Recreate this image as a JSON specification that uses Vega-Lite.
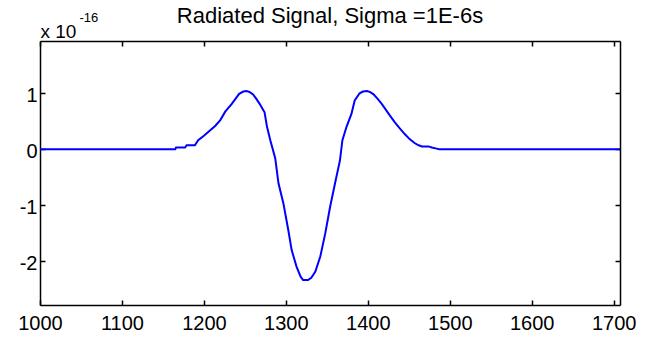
{
  "$schema": "https://vega.github.io/schema/vega-lite/v6.json",
  "width": 580,
  "height": 264,
  "autosize": {"type": "none"},
  "padding": {"left": 40, "top": 41, "right": 37, "bottom": 36},
  "background": "white",
  "config": {
    "view": {"stroke": null},
    "font": "Liberation Sans",
    "axis": {
      "grid": false,
      "domainColor": "black",
      "domainWidth": 1.5,
      "tickColor": "black",
      "tickWidth": 1.5,
      "tickSize": -5,
      "labelFlush": false,
      "labelOverlap": false,
      "labelFont": "Liberation Sans",
      "labelFontSize": 20,
      "labelColor": "black",
      "titleFont": "Liberation Sans",
      "titleColor": "black",
      "titleFontWeight": "normal"
    }
  },
  "title": {
    "text": "Radiated Signal, Sigma =1E-6s",
    "font": "Liberation Sans",
    "fontSize": 22,
    "fontWeight": "normal",
    "color": "black",
    "anchor": "middle",
    "frame": "group",
    "dy": 21
  },
  "data": {
    "values": [
      {"t": 1000, "v": 0}, {"t": 1165, "v": 0}, {"t": 1166, "v": 0.03}, {"t": 1177, "v": 0.03},
      {"t": 1179, "v": 0.07}, {"t": 1189, "v": 0.07}, {"t": 1193, "v": 0.16}, {"t": 1200, "v": 0.24},
      {"t": 1207, "v": 0.33}, {"t": 1214, "v": 0.42}, {"t": 1220, "v": 0.52}, {"t": 1226, "v": 0.67},
      {"t": 1234, "v": 0.81}, {"t": 1243, "v": 0.99}, {"t": 1248, "v": 1.03}, {"t": 1252, "v": 1.04},
      {"t": 1256, "v": 1.02}, {"t": 1260, "v": 0.98}, {"t": 1264, "v": 0.9}, {"t": 1268, "v": 0.81},
      {"t": 1274, "v": 0.66}, {"t": 1277, "v": 0.4}, {"t": 1281, "v": 0.16}, {"t": 1287, "v": -0.16},
      {"t": 1291, "v": -0.61}, {"t": 1297, "v": -0.97}, {"t": 1303, "v": -1.45}, {"t": 1307, "v": -1.8},
      {"t": 1313, "v": -2.1}, {"t": 1318, "v": -2.28}, {"t": 1321, "v": -2.34}, {"t": 1327, "v": -2.34},
      {"t": 1331, "v": -2.3}, {"t": 1336, "v": -2.19}, {"t": 1342, "v": -1.92}, {"t": 1348, "v": -1.51},
      {"t": 1354, "v": -1.03}, {"t": 1360, "v": -0.61}, {"t": 1366, "v": -0.2}, {"t": 1369, "v": 0.16},
      {"t": 1374, "v": 0.4}, {"t": 1380, "v": 0.63}, {"t": 1384, "v": 0.87}, {"t": 1390, "v": 1.0},
      {"t": 1394, "v": 1.03}, {"t": 1399, "v": 1.04}, {"t": 1403, "v": 1.02}, {"t": 1407, "v": 0.98},
      {"t": 1412, "v": 0.9}, {"t": 1417, "v": 0.81}, {"t": 1427, "v": 0.6}, {"t": 1433, "v": 0.48},
      {"t": 1439, "v": 0.37}, {"t": 1445, "v": 0.27}, {"t": 1451, "v": 0.18}, {"t": 1457, "v": 0.11},
      {"t": 1462, "v": 0.07}, {"t": 1466, "v": 0.05}, {"t": 1474, "v": 0.05}, {"t": 1478, "v": 0.03},
      {"t": 1484, "v": 0.01}, {"t": 1487, "v": 0}, {"t": 1708, "v": 0}
    ]
  },
  "layer": [
    {
      "mark": {"type": "line", "color": "#0000ff", "strokeWidth": 2, "clip": true},
      "encoding": {
        "x": {
          "field": "t", "type": "quantitative",
          "scale": {"domain": [1000, 1707.7], "nice": false, "zero": false},
          "axis": {
            "orient": "bottom",
            "values": [1000, 1100, 1200, 1300, 1400, 1500, 1600, 1700],
            "labelExpr": "'' + datum.value",
            "labelPadding": 13,
            "title": null
          }
        },
        "y": {
          "field": "v", "type": "quantitative",
          "scale": {"domain": [-2.786, 1.934], "nice": false, "zero": false},
          "axis": {
            "orient": "left",
            "values": [-2, -1, 0, 1],
            "labelExpr": "'' + datum.value",
            "labelPadding": 8,
            "labelOffset": 2,
            "title": "x 10",
            "titleFontSize": 19,
            "titleAngle": 0,
            "titleAlign": "left",
            "titleBaseline": "alphabetic",
            "titleX": 0,
            "titleY": -4
          }
        }
      }
    },
    {
      "mark": {"type": "line", "opacity": 0},
      "encoding": {
        "x": {
          "field": "t", "type": "quantitative",
          "scale": {"domain": [1000, 1707.7], "nice": false, "zero": false},
          "axis": {
            "orient": "top",
            "values": [1000, 1100, 1200, 1300, 1400, 1500, 1600, 1700],
            "labels": false,
            "title": null
          }
        },
        "y": {
          "field": "v", "type": "quantitative",
          "scale": {"domain": [-2.786, 1.934], "nice": false, "zero": false},
          "axis": {
            "orient": "right",
            "values": [-2, -1, 0, 1],
            "labels": false,
            "title": "-16",
            "titleFontSize": 13,
            "titleAngle": 0,
            "titleAlign": "left",
            "titleBaseline": "alphabetic",
            "titleX": -541,
            "titleY": -20
          }
        }
      }
    }
  ],
  "resolve": {"axis": {"x": "independent", "y": "independent"}}
}
